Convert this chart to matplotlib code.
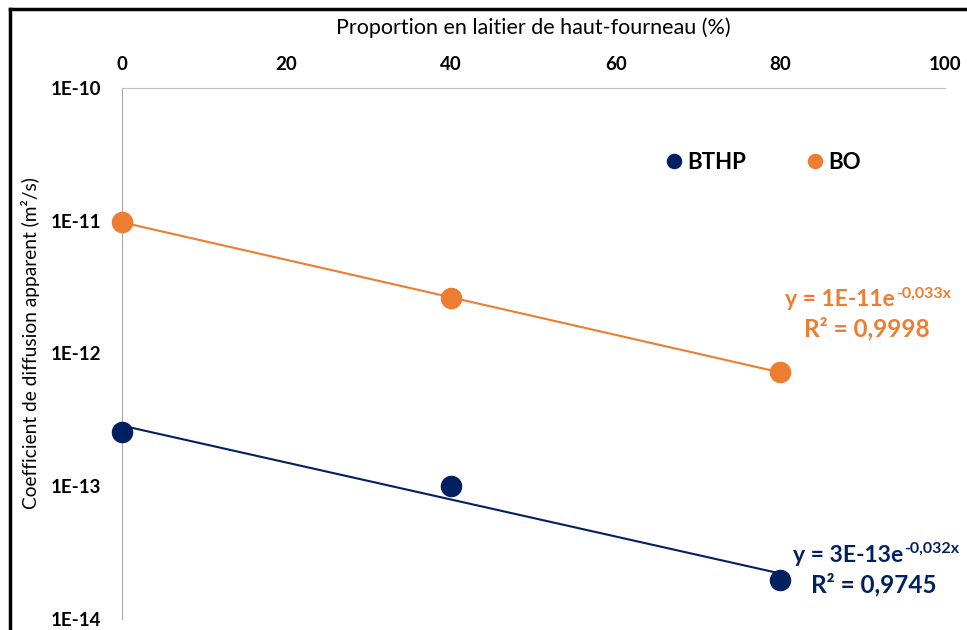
import numpy as np
import matplotlib
matplotlib.use('Agg')
import matplotlib.pyplot as plt
from matplotlib.lines import Line2D

plt.rcParams['font.family'] = ['Lato', 'DejaVu Sans']

# Données
laitier = [0, 40, 80]
bthp = [2.55e-13, 1.0e-13, 1.96e-14]
bo = [9.8e-12, 2.61e-12, 7.25e-13]
series = ['BTHP', 'BO']
couleurs = ['#002060', '#ED7D31']
equations = [('y = 3E-13e', '-0,032x', 'R² = 0,9745'),
             ('y = 1E-11e', '-0,033x', 'R² = 0,9998')]

fig = plt.figure(figsize=(9.67, 6.30), dpi=100)
ax = fig.add_axes([0.1262, 0.0175, 0.851, 0.8428])

# cadre noir (partiellement hors image)
fig.add_artist(Line2D([10/967, 10/967], [1 - 9/630, -0.1], color='black', lw=2.5,
                      transform=fig.transFigure))
fig.add_artist(Line2D([10/967, 1.1], [1 - 9/630, 1 - 9/630], color='black', lw=2.5,
                      transform=fig.transFigure))

for vals, nom, c in zip([bthp, bo], series, couleurs):
    # courbe de tendance exponentielle
    pente, orig = np.polyfit(laitier, np.log(vals), 1)
    xs = np.linspace(laitier[0], laitier[-1], 50)
    ax.plot(xs, np.exp(orig + pente * xs), color=c, lw=1.5, zorder=2)
    ax.plot(laitier, vals, 'o', color=c, ms=14.5, label=nom, clip_on=False, zorder=3)

ax.set_yscale('log')
ax.set_ylim(1e-14, 1e-10)
ax.set_xlim(0, 100)
ax.set_xticks([0, 20, 40, 60, 80, 100])
ax.set_yticks([1e-14, 1e-13, 1e-12, 1e-11, 1e-10])
ax.set_yticklabels(['1E-14', '1E-13', '1E-12', '1E-11', '1E-10'])
ax.minorticks_off()
ax.xaxis.tick_top()
ax.xaxis.set_label_position('top')
ax.tick_params(length=0, labelsize=13.5, pad=11)
ax.tick_params(axis='y', pad=15)
for lab in ax.get_xticklabels() + ax.get_yticklabels():
    lab.set_fontweight('bold')

for s in ['bottom', 'right']:
    ax.spines[s].set_visible(False)
ax.spines['top'].set_color('#BFBFBF')
ax.spines['left'].set_color('#A6A6A6')

ax.set_xlabel('Proportion en laitier de haut-fourneau (%)', fontsize=15.5)
ax.xaxis.set_label_coords(0.5, 1 + (88 - 28) / 531, transform=ax.transAxes)
ax.xaxis.label.set_va('center')
ax.set_ylabel('Coefficient de diffusion apparent (m²/s)', fontsize=13.8)
ax.yaxis.set_label_coords((30 - 122) / 823, (619 - 343) / 531)
ax.yaxis.label.set_va('center')

# équations
pos = [(903, 555, 874, 585), (895, 300, 867, 329)]
for (eq, exp, r2), (ex, ey, rx, ry), c in zip(equations, pos, couleurs):
    fig.text(ex / 967, 1 - ey / 630, eq, color=c, fontsize=16.5,
             fontweight='bold', ha='right', va='center')
    fig.text((ex + 1) / 967, 1 - (ey - 6) / 630, exp, color=c, fontsize=11.5,
             fontweight='bold', ha='left', va='center')
    fig.text(rx / 967, 1 - ry / 630, r2, color=c, fontsize=17.5,
             fontweight='bold', ha='center', va='center')

leg = ax.legend(loc='center left', bbox_to_anchor=((643 - 122) / 823, (619 - 162) / 531),
                ncol=2, frameon=False, fontsize=16, handletextpad=0.1,
                columnspacing=2.6, markerscale=0.7, handlelength=1.0)
for t in leg.get_texts():
    t.set_fontweight('bold')

fig.savefig('out.png', dpi=100)
